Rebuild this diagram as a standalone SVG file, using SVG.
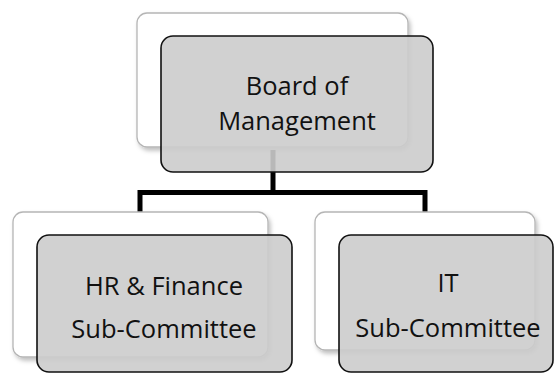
<svg xmlns="http://www.w3.org/2000/svg" width="555" height="374" viewBox="0 0 555 374">
<style>
.back{fill:#ffffff;stroke:#b5b5b5;stroke-width:1.3;filter:url(#sh)}
.front{fill:#cccccc;fill-opacity:0.9;stroke:#111111;stroke-width:1.6}
.lbl{font-family:"Open Sans","Liberation Sans",sans-serif;font-size:25.5px;fill:#111111;text-anchor:middle}
.conn{fill:none;stroke:#000000;stroke-width:5;stroke-linejoin:miter}
</style>
<defs>
<filter id="sh" x="-10%" y="-10%" width="125%" height="130%">
<feDropShadow dx="2" dy="3" stdDeviation="2" flood-color="#000000" flood-opacity="0.25"/>
</filter>
</defs>
<rect width="555" height="374" fill="#ffffff"/>
<g id="connectors">
<path class="conn" d="M273,150 V192.5"/>
<path class="conn" d="M140,215 V192.5 H425 V215"/>
</g>
<g id="board">
<rect class="back" x="137" y="13" width="271" height="134" rx="10"/>
<rect class="front" x="161" y="36" width="272" height="136" rx="12"/>
<text class="lbl" x="297" y="95">Board of</text>
<text class="lbl" x="297" y="130">Management</text>
</g>
<g id="hr">
<rect class="back" x="13" y="212" width="255" height="145" rx="10"/>
<rect class="front" x="37" y="235" width="255" height="137" rx="12"/>
<text class="lbl" x="164" y="295">HR &amp; Finance</text>
<text class="lbl" x="164" y="338">Sub-Committee</text>
</g>
<g id="it">
<rect class="back" x="315" y="212" width="220" height="138" rx="10"/>
<rect class="front" x="339" y="235" width="214" height="137" rx="12"/>
<text class="lbl" x="448" y="292">IT</text>
<text class="lbl" x="448" y="337">Sub-Committee</text>
</g>
</svg>
